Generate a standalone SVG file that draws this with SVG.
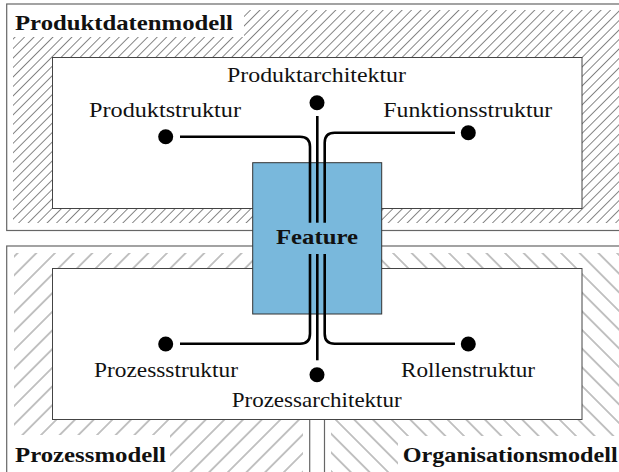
<svg xmlns="http://www.w3.org/2000/svg" width="619" height="472" viewBox="0 0 619 472">
  <style>
    .outer { fill: #ffffff; stroke: #666666; stroke-width: 1.2; }
    .inner { fill: #ffffff; stroke: #444444; stroke-width: 1; }
    .blank { fill: #ffffff; stroke: none; }
    .txt { font-family: "Liberation Serif", "DejaVu Serif", serif; font-size: 21px; fill: #111111; }
    .bold { font-weight: bold; }
    .wire { fill: none; stroke: #000000; stroke-width: 2.6; stroke-linecap: butt; }
    .dot { fill: #000000; }
    .hatch { stroke: #7a7a7a; stroke-width: 0.9; }
  </style>
  <defs>
    <pattern id="hatchDense" patternUnits="userSpaceOnUse" width="6.7" height="6.7" patternTransform="rotate(45)">
      <line class="hatch" x1="3.35" y1="-1" x2="3.35" y2="7.7"/>
    </pattern>
    <pattern id="hatchNE" patternUnits="userSpaceOnUse" width="13.2" height="13.2" patternTransform="rotate(45)">
      <line class="hatch" x1="6.6" y1="-1" x2="6.6" y2="14.2"/>
    </pattern>
    <pattern id="hatchNW" patternUnits="userSpaceOnUse" width="13.2" height="13.2" patternTransform="rotate(-45)">
      <line class="hatch" x1="6.6" y1="-1" x2="6.6" y2="14.2"/>
    </pattern>
  </defs>

  <rect width="619" height="472" fill="#ffffff"/>

  <!-- Produktdatenmodell -->
  <g id="produktdatenmodell">
    <rect class="outer" x="6.7" y="4" width="640" height="226.5"/>
    <rect x="13" y="10" width="620" height="213" fill="url(#hatchDense)"/>
    <rect class="blank" x="8" y="5" width="236" height="32"/>
    <rect class="inner" x="52.5" y="57.5" width="529.5" height="151"/>
    <text class="txt bold" x="15" y="30" textLength="218" lengthAdjust="spacingAndGlyphs">Produktdatenmodell</text>
  </g>

  <!-- Prozessmodell -->
  <g id="prozessmodell">
    <rect class="outer" x="6.7" y="246" width="303" height="240"/>
    <rect x="14" y="253" width="289" height="230" fill="url(#hatchNE)"/>
    <rect class="blank" x="8" y="435" width="162" height="40"/>
  </g>

  <!-- Organisationsmodell -->
  <g id="organisationsmodell">
    <rect class="outer" x="324.5" y="246" width="320" height="240"/>
    <rect x="331" y="253" width="300" height="230" fill="url(#hatchNW)"/>
    <rect class="blank" x="398" y="436" width="230" height="40"/>
  </g>

  <!-- shared inner area of process / organisation -->
  <g id="prozessbereich">
    <rect class="inner" x="52.5" y="268.5" width="529.5" height="151"/>
    <text class="txt bold" x="15" y="462" textLength="151" lengthAdjust="spacingAndGlyphs">Prozessmodell</text>
    <text class="txt bold" x="402.7" y="462" textLength="215" lengthAdjust="spacingAndGlyphs">Organisationsmodell</text>
  </g>

  <!-- Feature -->
  <g id="feature">
    <rect x="252.7" y="162.7" width="129" height="151.3" fill="#79b8dc" stroke="#333333" stroke-width="1"/>
    <text class="txt bold" x="276" y="244.3" textLength="82" lengthAdjust="spacingAndGlyphs">Feature</text>
  </g>

  <!-- Connectors -->
  <g id="connectors">
    <path class="wire" d="M180,136.7 H300 Q310,136.7 310,146.7 V222.7"/>
    <path class="wire" d="M317.3,116 V222.7"/>
    <path class="wire" d="M455,132.7 H334.7 Q324.7,132.7 324.7,142.7 V222.7"/>
    <path class="wire" d="M180,343.7 H300 Q310,343.7 310,333.7 V254"/>
    <path class="wire" d="M317.3,360.3 V254"/>
    <path class="wire" d="M455,343.7 H334.7 Q324.7,343.7 324.7,333.7 V254"/>
  </g>

  <!-- Endpoints -->
  <g id="produktstruktur">
    <circle class="dot" cx="165.7" cy="136.7" r="7.5"/>
    <text class="txt" x="89" y="116.7" textLength="152" lengthAdjust="spacingAndGlyphs">Produktstruktur</text>
  </g>
  <g id="produktarchitektur">
    <circle class="dot" cx="317" cy="102.7" r="7.5"/>
    <text class="txt" x="227" y="81.7" textLength="179" lengthAdjust="spacingAndGlyphs">Produktarchitektur</text>
  </g>
  <g id="funktionsstruktur">
    <circle class="dot" cx="468.3" cy="132.7" r="7.5"/>
    <text class="txt" x="383.3" y="116.7" textLength="169" lengthAdjust="spacingAndGlyphs">Funktionsstruktur</text>
  </g>
  <g id="prozessstruktur">
    <circle class="dot" cx="165.7" cy="344" r="7.5"/>
    <text class="txt" x="94" y="377" textLength="144" lengthAdjust="spacingAndGlyphs">Prozessstruktur</text>
  </g>
  <g id="prozessarchitektur">
    <circle class="dot" cx="317" cy="374.7" r="7.5"/>
    <text class="txt" x="231.7" y="407" textLength="170" lengthAdjust="spacingAndGlyphs">Prozessarchitektur</text>
  </g>
  <g id="rollenstruktur">
    <circle class="dot" cx="468.3" cy="344" r="7.5"/>
    <text class="txt" x="401" y="377" textLength="134" lengthAdjust="spacingAndGlyphs">Rollenstruktur</text>
  </g>
</svg>
